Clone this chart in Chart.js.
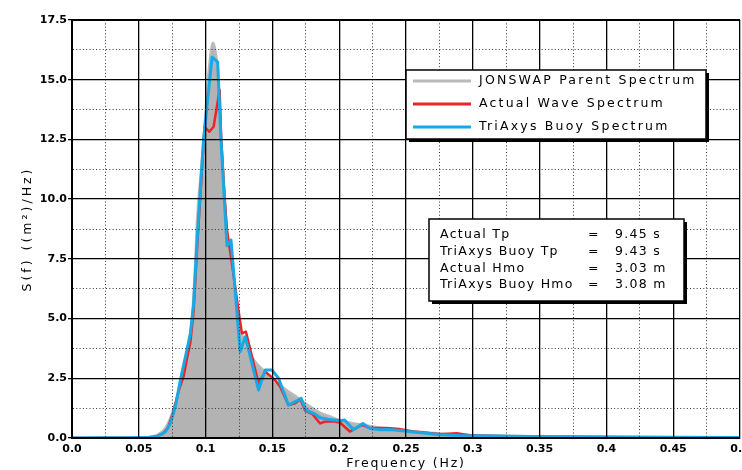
<!DOCTYPE html>
<html>
<head>
<meta charset="utf-8">
<script src="https://cdn.jsdelivr.net/npm/chart.js@4.4.1/dist/chart.umd.min.js"></script>
<style>
  html, body { margin: 0; padding: 0; background: #fff; overflow: hidden; }
  canvas { display: block; }
</style>
</head>
<body>
<canvas id="c" width="742" height="470"></canvas>
<script>
// ---------------- data ----------------
const xTickLabels = ['0.0','0.05','0.1','0.15','0.2','0.25','0.3','0.35','0.4','0.45','0.5'];
const yTickLabels = ['0.0','2.5','5.0','7.5','10.0','12.5','15.0','17.5'];

const seriesNames = ['JONSWAP Parent Spectrum', 'Actual Wave Spectrum', 'TriAxys Buoy Spectrum'];

const parentFreq = [0.000,0.040,0.050,0.055,0.060,0.065,0.070,0.075,0.080,0.085,0.0898,0.0923,0.0936,0.0966,0.0985,0.1018,0.1040,0.1055,0.1070,0.1097,0.1117,0.1130,0.1155,0.1197,0.1247,0.1300,0.1370,0.1430,0.1500,0.1560,0.1620,0.1680,0.1740,0.1800,0.1860,0.1930,0.2000,0.2100,0.2180,0.2300,0.2430,0.2550,0.2680,0.2800,0.3000,0.3300,0.3600,0.4000,0.4500,0.5000];
const parentS    = [0.00, 0.00, 0.005,0.02, 0.06, 0.17, 0.42, 1.05, 2.05, 3.35, 4.94,  7.40,  9.10,  11.20, 12.50, 15.00, 16.20, 16.55, 16.30, 14.98, 12.47, 11.20, 9.00,  7.40,  4.94,  3.90,  3.20,  2.85,  2.45,  2.20,  1.95,  1.73,  1.48,  1.25,  1.05,  0.90,  0.76,  0.62,  0.55,  0.43,  0.35,  0.28,  0.22,  0.17,  0.12,  0.08,  0.06,  0.04,  0.025, 0.015];

const actualFreq = [0.000,0.040,0.055,0.062,0.068,0.072,0.076,0.0800,0.0836,0.0861,0.0886,0.0910,0.0940,0.0993,0.1028,0.1060,0.1105,0.1117,0.1142,0.1160,0.1197,0.1242,0.1272,0.1302,0.1396,0.1446,0.1520,0.1558,0.1620,0.1670,0.1710,0.1745,0.1800,0.1857,0.1890,0.1960,0.2007,0.2080,0.2170,0.2230,0.2356,0.2450,0.2550,0.2650,0.2754,0.2880,0.3000,0.3300,0.3600,0.4000,0.4500,0.5000];
const actualS    = [0.00, 0.00, 0.01, 0.04, 0.18, 0.45, 1.10, 2.00,  2.60,  3.34,  4.00,  5.30,  8.30,  13.03, 12.82, 13.03, 14.57, 12.50, 10.10, 8.70,  7.30,  5.50,  4.38,  4.45,  2.29,  2.78,  2.43,  2.15,  1.38,  1.45,  1.62,  1.15,  1.00,  0.61,  0.68,  0.70,  0.64,  0.27,  0.55,  0.42,  0.42,  0.38,  0.27,  0.22,  0.16,  0.20,  0.10,  0.07,  0.05,  0.04,  0.03,  0.03];

const buoyFreq = [0.000,0.020,0.040,0.050,0.058,0.064,0.070,0.0736,0.0774,0.0811,0.0849,0.0886,0.0910,0.0940,0.0985,0.1048,0.1090,0.1115,0.1160,0.1175,0.1190,0.1259,0.1297,0.1396,0.1446,0.1496,0.1546,0.1620,0.1670,0.1715,0.1750,0.1820,0.1857,0.1932,0.2007,0.2040,0.2106,0.2177,0.2231,0.2306,0.2380,0.2455,0.2555,0.2655,0.2754,0.2900,0.3000,0.3300,0.3600,0.4000,0.4500,0.5000];
const buoyS    = [0.00, 0.01, 0.01, 0.02, 0.03, 0.06, 0.26, 0.61,  1.31,  2.43,  3.40,  4.38,  5.60,  8.60,  12.50, 15.94, 15.75, 12.48, 8.05,  8.15,  8.29,  3.61,  4.24,  2.01,  2.85,  2.85,  2.50,  1.38,  1.52,  1.66,  1.17,  1.00,  0.85,  0.77,  0.72,  0.75,  0.35,  0.61,  0.40,  0.35,  0.36,  0.31,  0.25,  0.20,  0.14,  0.10,  0.09,  0.07,  0.05,  0.04,  0.03,  0.02];

const statLabels = ['Actual Tp', 'TriAxys Buoy Tp', 'Actual Hmo', 'TriAxys Buoy Hmo'];
const statValues = ['9.45 s', '9.43 s', '3.03 m', '3.08 m'];

// ---------------- styles ----------------
const COLORS = { parentLine: '#bababa', parentFill: '#b3b3b3', actual: '#ec2328', buoy: '#17a9e6' };
const TEXT_FONT = '12.5px "DejaVu Sans"';
const isMinor = (c) => c.tick !== undefined && c.index % 2 === 1;

function pts(xs, ys) { return xs.map((f, i) => ({ x: f, y: ys[i] })); }

function spacedTitle(scale, spacing) {
  scale.drawTitle = function (area) {
    const c = this.ctx;
    c.save();
    c.letterSpacing = spacing;
    Object.getPrototypeOf(this).drawTitle.call(this, area);
    c.restore();
  };
}

// top edge of the plot frame
const framePlugin = {
  id: 'frameTop',
  afterDatasetsDraw(chart) {
    const { ctx, chartArea: a } = chart;
    ctx.save();
    ctx.fillStyle = '#000';
    ctx.fillRect(a.left - 1, a.top - 1, a.right - a.left + 1, 2);
    ctx.restore();
  }
};

function shadowBox(ctx, x, y, w, h) {
  ctx.fillStyle = '#000';
  ctx.fillRect(x + 3, y + 3, w, h);
  ctx.fillStyle = '#fff';
  ctx.fillRect(x, y, w, h);
  ctx.strokeStyle = '#000';
  ctx.lineWidth = 1.5;
  ctx.strokeRect(x, y, w, h);
}

const boxesPlugin = {
  id: 'boxes',
  afterDraw(chart) {
    const ctx = chart.ctx;
    ctx.save();
    ctx.font = TEXT_FONT;
    ctx.textBaseline = 'middle';
    // legend
    ctx.letterSpacing = '2.2px';
    shadowBox(ctx, 406, 70, 300, 69);
    const ds = chart.data.datasets;
    for (let i = 0; i < ds.length; i++) {
      const yy = 81 + i * 23;
      ctx.strokeStyle = ds[i].borderColor;
      ctx.lineWidth = 3;
      ctx.beginPath(); ctx.moveTo(413, yy); ctx.lineTo(471, yy); ctx.stroke();
      ctx.fillStyle = '#000';
      ctx.textAlign = 'left';
      ctx.fillText(ds[i].label, 479, yy);
    }
    // statistics
    ctx.letterSpacing = '1.3px';
    shadowBox(ctx, 429, 219, 255, 82);
    for (let i = 0; i < statLabels.length; i++) {
      const yy = 235 + i * 16.7;
      ctx.fillStyle = '#000';
      ctx.textAlign = 'left';
      ctx.fillText(statLabels[i], 440, yy);
      ctx.textAlign = 'center';
      ctx.fillText('=', 594, yy);
      ctx.textAlign = 'left';
      ctx.fillText(statValues[i], 615, yy);
    }
    ctx.restore();
  }
};

const gridWidth = (c) => (isMinor(c) ? 1 : 1.3);
const gridColor = (c) => (isMinor(c) ? '#333' : '#000');
const gridDash = (c) => (isMinor(c) ? [1, 2.3] : []);

new Chart(document.getElementById('c'), {
  type: 'line',
  data: {
    datasets: [
      { label: seriesNames[0], data: pts(parentFreq, parentS), borderColor: COLORS.parentLine, backgroundColor: COLORS.parentFill,
        fill: 'origin', borderWidth: 2.5, cubicInterpolationMode: 'monotone', order: 3 },
      { label: seriesNames[1], data: pts(actualFreq, actualS), borderColor: COLORS.actual, borderWidth: 2.5,
        fill: false, tension: 0, order: 2 },
      { label: seriesNames[2], data: pts(buoyFreq, buoyS), borderColor: COLORS.buoy, borderWidth: 3,
        fill: false, tension: 0, order: 1 }
    ]
  },
  options: {
    responsive: false,
    animation: false,
    devicePixelRatio: 1,
    layout: { padding: { top: 20, right: 2, left: 0, bottom: 0 } },
    elements: { point: { radius: 0 }, line: { borderJoinStyle: 'round' } },
    plugins: { legend: { display: false }, tooltip: { enabled: false } },
    scales: {
      x: {
        type: 'linear', min: 0, max: 0.5,
        grid: { display: true, drawOnChartArea: true, drawTicks: false, color: gridColor, lineWidth: gridWidth, z: 1 },
        border: { display: true, color: '#000', width: 2, z: 1, dash: gridDash },
        ticks: {
          stepSize: 0.025, autoSkip: false, maxRotation: 0, padding: 5, color: '#000',
          font: { family: 'DejaVu Sans', weight: 'bold', size: 11 },
          callback: (v, i) => (i % 2 === 0 ? xTickLabels[i / 2] : '')
        },
        title: { display: true, text: 'Frequency (Hz)', color: '#000',
                 font: { family: 'DejaVu Sans', size: 12.5, lineHeight: 1 }, padding: { top: 0, bottom: 0 } },
        afterFit(scale) { scale.height = 32; scale.paddingLeft = 0; scale.paddingRight = 0; spacedTitle(scale, '1.8px'); }
      },
      y: {
        type: 'linear', min: 0, max: 17.5,
        grid: { display: true, drawOnChartArea: true, drawTicks: true, tickLength: 4, color: gridColor, lineWidth: gridWidth, z: 1,
                tickColor: (c) => isMinor(c) ? 'rgba(0,0,0,0)' : '#000' },
        border: { display: true, color: '#000', width: 2, z: 1, dash: gridDash },
        ticks: {
          stepSize: 1.25, autoSkip: false, padding: 1, color: '#000',
          font: { family: 'DejaVu Sans', weight: 'bold', size: 11 },
          callback: (v, i) => (i % 2 === 0 ? yTickLabels[i / 2] : '')
        },
        title: { display: true, text: 'S(f) ((m²)/Hz)', color: '#000',
                 font: { family: 'DejaVu Sans', size: 12.5, lineHeight: 1.2 }, padding: { top: 20, bottom: 0 } },
        afterFit(scale) { scale.width = 72; scale.paddingTop = 0; scale.paddingBottom = 0; spacedTitle(scale, '3px'); }
      }
    }
  },
  plugins: [framePlugin, boxesPlugin]
});
</script>
</body>
</html>
